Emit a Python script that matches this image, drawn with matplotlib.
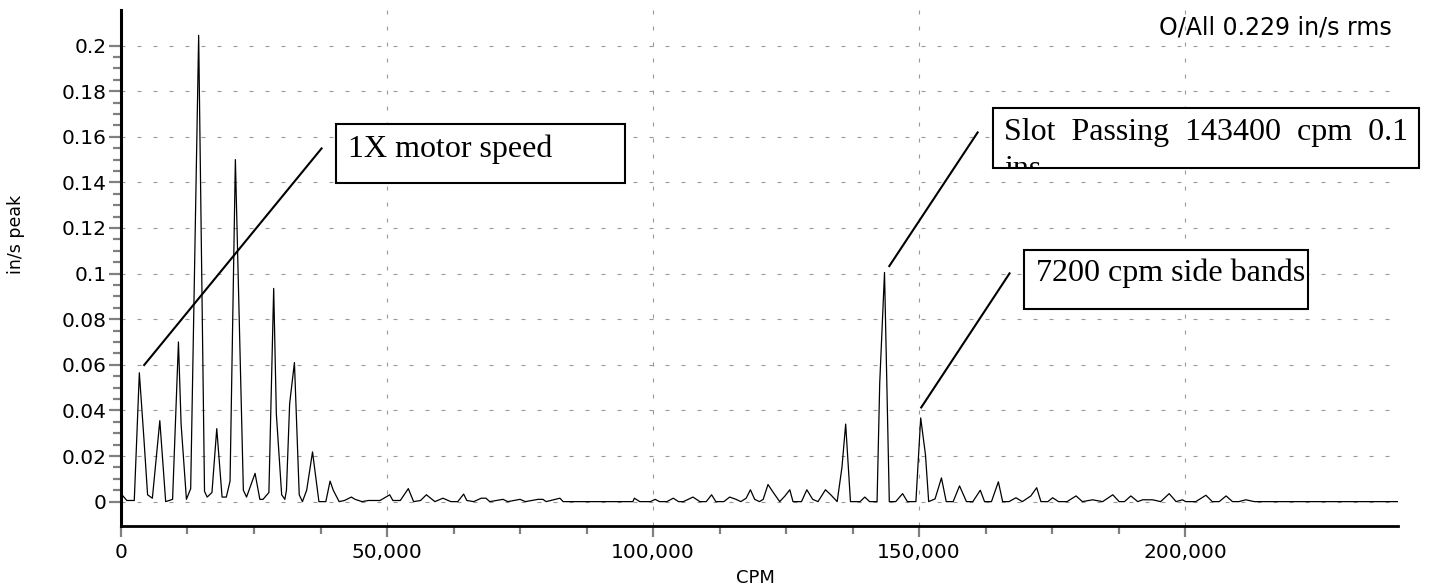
import matplotlib
matplotlib.use("Agg")
import matplotlib.pyplot as plt
import numpy as np
from matplotlib.patches import Rectangle
from matplotlib.ticker import FixedLocator, FuncFormatter
from matplotlib.transforms import Bbox, TransformedBbox

# spectrum: frequency (thousands of cpm) and amplitude (in/s peak)
cpm_k = [0, 1.1, 2.5, 3.45, 4.3, 5.0, 5.9, 7.3, 8.4, 9.7, 10.8, 11.3, 12.3, 13.1, 14.6,
         15.7, 16.2, 17.1, 18.0, 19.0, 19.8, 20.5, 21.5, 23.0, 23.6, 25.2, 26.1, 26.7,
         27.8, 28.7, 29.2, 30.2, 30.8, 31.1, 31.7, 32.6, 33.5, 34.1, 34.9, 36.0, 37.2,
         38.5, 39.3, 39.9, 41.0, 42.0, 43.3, 44.0, 45.3, 46.5, 48.7, 49.8, 50.5, 51.1,
         52.5, 54.0, 55.0, 56.3, 57.4, 59.0, 60.5, 62.0, 63.3, 64.4, 65.0, 66.3, 67.7,
         68.6, 69.3, 71.8, 72.7, 75.0, 76.0, 78.4, 79.3, 79.9, 82.5, 83.1, 96.2, 96.5,
         97.5, 99.5, 100.4, 101.2, 102.6, 103.8, 104.8, 105.7, 107.5, 108.8, 110.0,
         111.0, 111.8, 113.3, 114.4, 115.6, 116.5, 117.5, 118.3, 119.1, 120.0, 120.7,
         121.6, 122.6, 123.8, 124.8, 125.7, 126.3, 127.9, 128.9, 130.0, 131.0, 132.4,
         133.4, 134.6, 135.5, 136.2, 137.1, 138.9, 139.8, 140.7, 142.1, 142.6, 143.5,
         144.4, 145.6, 146.9, 147.8, 149.4, 150.3, 151.2, 151.8, 153.0, 154.2, 155.1,
         156.4, 157.6, 158.9, 160.1, 161.5, 162.3, 163.6, 164.9, 165.7, 166.9, 168.2,
         169.4, 171.0, 172.1, 172.9, 174.2, 175.1, 176.2, 177.8, 179.5, 180.7, 182.6,
         184.5, 186.4, 187.6, 188.6, 189.8, 191.1, 192.0, 193.9, 195.4, 197.0, 198.3,
         199.5, 200.1, 202.0, 203.9, 205.1, 206.4, 207.7, 208.9, 210.1, 211.4, 213.0,
         240.0]
amp = [0.0035, 0.0005, 0.0005, 0.0565, 0.028, 0.003, 0.0015, 0.0355, 0.0, 0.001, 0.070,
       0.034, 0.001, 0.0057, 0.2045, 0.0045, 0.002, 0.004, 0.032, 0.002, 0.002, 0.009,
       0.150, 0.005, 0.002, 0.0124, 0.001, 0.001, 0.004, 0.0935, 0.0385, 0.003, 0.001,
       0.005, 0.043, 0.061, 0.003, 0.0, 0.005, 0.0218, 0.0, 0.0, 0.009, 0.005, 0.0,
       0.0005, 0.002, 0.001, 0.0, 0.0005, 0.0005, 0.002, 0.003, 0.0005, 0.0005, 0.0057,
       0.0, 0.0005, 0.003, 0.0, 0.0015, 0.0, 0.0, 0.0033, 0.0005, 0.0, 0.0015, 0.0015,
       0.0, 0.001, 0.0, 0.001, 0.0, 0.001, 0.001, 0.0, 0.0015, 0.0, 0.0, 0.0015, 0.0,
       0.0, 0.001, 0.0, 0.0, 0.0015, 0.0, 0.0, 0.002, 0.0, 0.0, 0.003, 0.0, 0.0, 0.002,
       0.001, 0.0, 0.0015, 0.0052, 0.001, 0.0, 0.001, 0.0075, 0.004, 0.0, 0.0025, 0.0052,
       0.0, 0.0, 0.0052, 0.001, 0.0, 0.0052, 0.003, 0.0, 0.015, 0.034, 0.0, 0.0, 0.002,
       0.0, 0.0, 0.052, 0.1005, 0.0, 0.0, 0.0035, 0.0, 0.0, 0.0367, 0.0205, 0.0, 0.0012,
       0.0104, 0.0, 0.0, 0.0069, 0.0, 0.0, 0.005, 0.0, 0.0, 0.0087, 0.0, 0.0, 0.0017,
       0.0, 0.0025, 0.0061, 0.0, 0.0, 0.0017, 0.0, 0.0, 0.0025, 0.0, 0.0008, 0.0, 0.003,
       0.0, 0.0, 0.0025, 0.0, 0.0008, 0.0008, 0.0, 0.0035, 0.0, 0.0008, 0.0, 0.0, 0.0028,
       0.0, 0.0, 0.0025, 0.0, 0.0, 0.0008, 0.0, 0.0]

x_ticks = [0, 50000, 100000, 150000, 200000]
y_ticks = [0, 0.02, 0.04, 0.06, 0.08, 0.1, 0.12, 0.14, 0.16, 0.18, 0.2]

cpm = np.array(cpm_k) * 1000

fig, ax = plt.subplots(figsize=(14.3, 5.88), dpi=100)
fig.subplots_adjust(left=0.0846, right=0.9776, bottom=0.1054, top=0.983)

ax.plot(cpm, amp, color="black", lw=0.9, zorder=3)
ax.set_xlim(0, 240000)
ax.set_ylim(-0.0107, 0.2156)

ax.xaxis.set_major_locator(FixedLocator(x_ticks))
ax.xaxis.set_minor_locator(FixedLocator(np.arange(0, 200001, 12500)))
ax.yaxis.set_major_locator(FixedLocator(y_ticks))
ax.yaxis.set_minor_locator(FixedLocator(np.arange(0, 0.2001, 0.005)))
ax.xaxis.set_major_formatter(FuncFormatter(lambda v, p: f"{v:,.0f}"))
ax.yaxis.set_major_formatter(FuncFormatter(lambda v, p: f"{v:g}"))

ax.set_axisbelow(True)
ax.grid(True, which="major", color="#999999", lw=0.8, linestyle=(0, (3.6, 10.8)))
for s in ["top", "right"]:
    ax.spines[s].set_visible(False)
ax.spines["left"].set_linewidth(2.2)
ax.spines["bottom"].set_linewidth(2.0)

ax.tick_params(which="both", color="#808080", width=1.6, labelcolor="black")
ax.tick_params(axis="x", which="major", length=8, pad=4, labelsize=14.5)
ax.tick_params(axis="x", which="minor", length=5.5)
ax.tick_params(axis="y", which="major", length=8.5, pad=2, labelsize=14.5)
ax.tick_params(axis="y", which="minor", length=5.5)

ax.set_xlabel("CPM", fontsize=13)
ax.xaxis.set_label_coords(0.4965, -0.083)
ax.set_ylabel("in/s peak", fontsize=12.5)
ax.yaxis.set_label_coords(-0.0755, 0.566)

ax.text(238900, 0.205, "O/All 0.229 in/s rms", ha="right", va="baseline", fontsize=17)

serif = "Liberation Serif"


def callout(box, lines, leader, fs=23):
    x0, y0, w, h = box
    ax.add_patch(Rectangle((x0, y0), w, h, facecolor="white", edgecolor="black",
                           lw=1.5, zorder=5, clip_on=False))
    clip = TransformedBbox(Bbox([[x0, y0], [x0 + w, y0 + h]]), ax.transData)
    for tx, ty, s in lines:
        t = ax.text(tx, ty, s, family=serif, fontsize=fs, ha="left", va="baseline",
                    zorder=6, clip_on=True)
        t.set_clip_box(clip)
    (ax1, ay1), (ax2, ay2) = leader
    ax.plot([ax1, ax2], [ay1, ay2], color="black", lw=1.5, zorder=4, clip_on=False)


callout((40500, 0.1396, 54300, 0.0258), [(42600, 0.1511, "1X motor speed")],
        [(37700, 0.1549), (4360, 0.0599)])
callout((163800, 0.1464, 80200, 0.0261),
        [(166000, 0.1586, "Slot  Passing  143400  cpm  0.1"), (166000, 0.1423, "ins")],
        [(161000, 0.1619), (144400, 0.1033)])
callout((169800, 0.0844, 53300, 0.0259), [(172000, 0.0968, "7200 cpm side bands")],
        [(167000, 0.1001), (150400, 0.0413)])

fig.savefig("out.png", dpi=100)
